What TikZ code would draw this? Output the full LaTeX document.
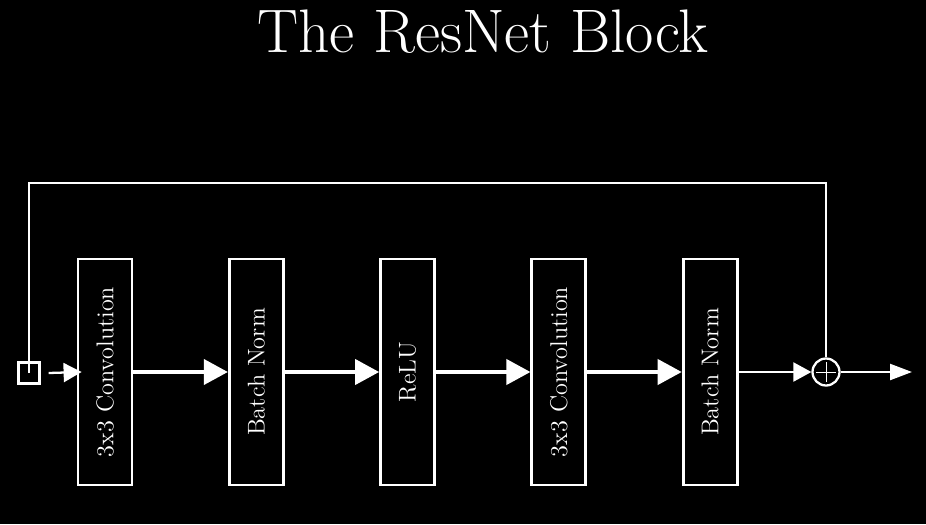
\documentclass[tikz,border=0pt]{standalone}
\usetikzlibrary{arrows.meta,positioning}
\begin{document}
\begin{tikzpicture}[x=0.02cm,y=-0.02cm,
  blk/.style={draw=white,line width=1.6pt,fill=black,minimum width=1.08cm,minimum height=4.52cm,inner sep=0pt,text=white,font=\fontsize{13.8}{16}\selectfont},
  flow/.style={white,line width=2.2pt,-{Triangle[length=0.48cm,width=0.5cm]}},
  thinflow/.style={white,line width=1.3pt,-{Triangle[length=0.36cm,width=0.38cm]}},
  outflow/.style={white,line width=1.3pt,-{Triangle[length=0.44cm,width=0.32cm]}}]
  \fill [black] (0,0) rectangle (926,524);
  \node [white,anchor=base,font=\fontsize{35}{42}\selectfont] (title) at (483,52) {The ResNet Block};
  \node [draw=white,line width=1.3pt,minimum size=0.42cm,inner sep=0pt] (in) at (29,373) {};
  \node [blk] (conv1) at (105,372) {\rotatebox{90}{3x3 Convolution}};
  \node [blk,right=1.89cm of conv1] (bn1) {\rotatebox{90}{Batch Norm}};
  \node [blk,right=1.89cm of bn1] (relu) {\rotatebox{90}{ReLU}};
  \node [blk,right=1.89cm of relu] (conv2) {\rotatebox{90}{3x3 Convolution}};
  \node [blk,right=1.89cm of conv2] (bn2) {\rotatebox{90}{Batch Norm}};
  \node [draw=white,circle,line width=1.3pt,minimum size=0.54cm,inner sep=0pt] (add) at (826,372) {};
  \draw [white,line width=0.5pt] ([xshift=-0.2cm]add.center) -- ([xshift=0.2cm]add.center);
  \draw [white,line width=0.5pt] ([yshift=-0.2cm]add.center) -- ([yshift=0.2cm]add.center);
  \coordinate (tl) at (29,183);
  \coordinate (tr) at (826,183);
  \coordinate (out) at (912,372);
  \draw [white,line width=1.6pt] (in.center) -- (tl) -- (tr) -- (add.north);
  \draw [thinflow] ([xshift=0.16cm]in.east) -- ([xshift=0.1cm]conv1.west);
  \draw [flow] (conv1) -- (bn1);
  \draw [flow] (bn1) -- (relu);
  \draw [flow] (relu) -- (conv2);
  \draw [flow] (conv2) -- (bn2);
  \draw [thinflow] (bn2) -- (add);
  \draw [outflow] (add) -- (out);
\end{tikzpicture}
\end{document}
